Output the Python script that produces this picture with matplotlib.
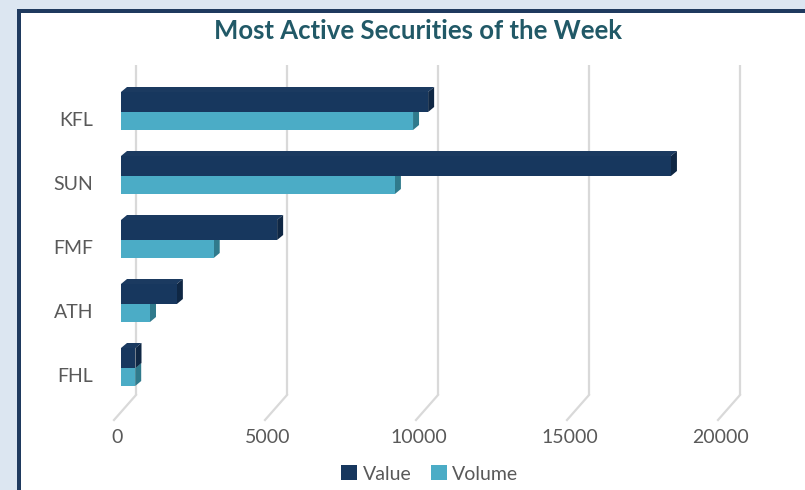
import matplotlib
matplotlib.use("Agg")
import matplotlib.pyplot as plt
from matplotlib.patches import Rectangle, Polygon, Patch

# data
securities = ["KFL", "SUN", "FMF", "ATH", "FHL"]
value = [10170, 18210, 5170, 1850, 480]
volume = [9670, 9070, 3070, 960, 470]
ticks = [0, 5000, 10000, 15000, 20000]

W, H = 805, 490
PXU = 151 / 5000.0     # pixels per unit on the front plane
X0 = 121               # pixel x of value 0 (front plane)
Y0, ROW = 112, 64      # pixel y of first category boundary, row pitch


def xd(px):
    return (px - X0) / PXU


def yd(py):
    return (py - Y0) / ROW


fig = plt.figure(figsize=(W / 100, H / 100), dpi=100)
fig.patch.set_facecolor("#dce6f1")
fig.patches.append(Rectangle((17 / W, 0), 1, 1 - 9 / H, transform=fig.transFigure,
                             facecolor="white", edgecolor="none", zorder=-2))
fig.patches.append(Rectangle((17 / W, 0), 4 / W, 1 - 9 / H, transform=fig.transFigure,
                             facecolor="#1f3a5f", edgecolor="none", zorder=-1))
fig.patches.append(Rectangle((17 / W, 1 - 13 / H), 1, 4 / H, transform=fig.transFigure,
                             facecolor="#1f3a5f", edgecolor="none", zorder=-1))

ax = fig.add_axes([0, 0, 1, 1])
ax.set_xlim(xd(0), xd(W))
ax.set_ylim(yd(H), yd(0))
ax.axis("off")
ax.patch.set_alpha(0)

font = "Lato"
grey = "#595959"

# back wall gridlines and floor diagonals
back = 15 / PXU
for t in ticks:
    bx = t + back
    ax.plot([bx, bx], [yd(65), yd(395)], color="#d9d9d9", lw=1.6, zorder=1,
            solid_capstyle="butt")
    ax.plot([bx, bx - 22 / PXU], [yd(395), yd(420)], color="#d9d9d9", lw=1.6,
            zorder=1)
    ax.text(t - 4 / PXU, yd(437), str(t), ha="center", va="center",
            fontsize=14, color=grey, family=font)

hv, hw = 20 / ROW, 18 / ROW
ddx, ddy = 6 / PXU, 5 / ROW

for i, (name, v, w) in enumerate(zip(securities, value, volume)):
    # volume bar (lower half)
    ax.add_patch(Polygon([(w, i), (w, i + hw), (w + ddx, i + hw - ddy), (w + ddx, i - ddy)],
                         facecolor="#307a8c", edgecolor="none", zorder=2))
    ax.barh(i + hw / 2, w, height=hw, color="#4bacc6", zorder=3)
    # value bar (upper half)
    top = i - hv
    ax.add_patch(Polygon([(0, top), (v, top), (v + ddx, top - ddy), (ddx, top - ddy)],
                         facecolor="#1b3a60", edgecolor="none", zorder=4))
    ax.add_patch(Polygon([(v, top), (v, i), (v + ddx, i - ddy), (v + ddx, top - ddy)],
                         facecolor="#0f2744", edgecolor="none", zorder=4))
    ax.barh(i - hv / 2, v, height=hv, color="#17375e", zorder=5)
    ax.text(xd(93), i + 8 / ROW, name, ha="right", va="center",
            fontsize=14, color=grey, family=font)

fig.text(418 / W, 1 - 31 / H, "Most Active Securities of the Week", ha="center",
         va="center", fontsize=18.5, fontweight="bold", color="#215967", family=font)

handles = [Patch(facecolor="#17375e", label="Value"),
           Patch(facecolor="#4bacc6", label="Volume")]
fig.legend(handles=handles, loc="center", bbox_to_anchor=(430 / W, 1 - 474 / H),
           ncol=2, frameon=False, handlelength=0.8, handleheight=0.8,
           handletextpad=0.3, columnspacing=1.0,
           prop={"family": font, "size": 14}, labelcolor=grey)

fig.savefig("out.png", dpi=100)
